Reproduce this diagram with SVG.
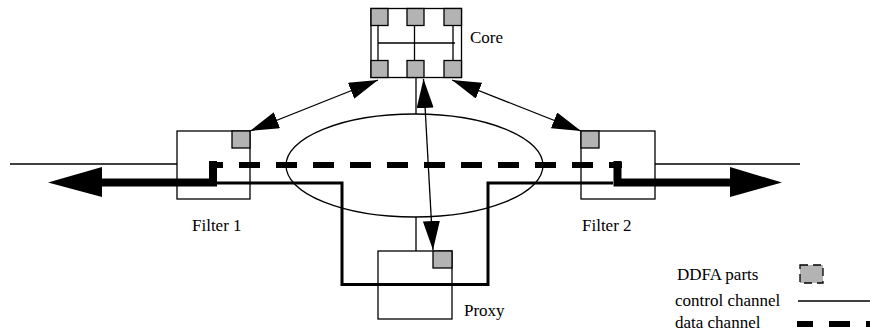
<svg xmlns="http://www.w3.org/2000/svg" width="870" height="332" viewBox="0 0 870 332">
<style>
.box{fill:none;stroke:#000;stroke-width:1.3}
.part{fill:#b3b3b3;stroke:#000;stroke-width:1.3}
.thin{fill:none;stroke:#000;stroke-width:1.3}
.ctl{fill:none;stroke:#000;stroke-width:3}
.data{fill:none;stroke:#000;stroke-width:8}
.dash{fill:none;stroke:#000;stroke-width:6;stroke-dasharray:21 16}
.lbl{font-family:"Liberation Serif","Times New Roman",serif;font-size:17px;fill:#000}
</style>
<defs>
<marker id="ah" markerUnits="userSpaceOnUse" markerWidth="30" markerHeight="18" refX="29" refY="8.5" orient="auto-start-reverse" viewBox="0 0 30 18">
<path d="M0,0 L29,8.5 L0,17 z" fill="#000"/>
</marker>
</defs>
<rect width="870" height="332" fill="#fff"/>

<g id="network">
<ellipse cx="414.5" cy="165.5" rx="128.5" ry="51.5" class="thin"/>
</g>

<g id="connectors">
<line x1="10" y1="164" x2="177" y2="164" class="thin"/>
<line x1="655" y1="164" x2="800" y2="164" class="thin"/>
<path d="M217 183 H342 V284.5 H488 V183 H613" class="ctl"/>
<path d="M209 165 H622" class="dash" stroke-dashoffset="7"/>
<path d="M100 182.5 H213 V161" class="data"/>
<polygon points="48,182.5 102,167 102,197" fill="#000"/>
<path d="M617.5 161 V182.5 H732" class="data"/>
<polygon points="782,182.5 730,167 730,197" fill="#000"/>
<line x1="416" y1="78" x2="416" y2="114" class="thin"/>
<line x1="416" y1="217" x2="416" y2="251" class="thin"/>
<line x1="378" y1="80" x2="250" y2="131" class="thin" marker-start="url(#ah)" marker-end="url(#ah)"/>
<line x1="452" y1="80" x2="581" y2="131" class="thin" marker-start="url(#ah)" marker-end="url(#ah)"/>
<line x1="423.5" y1="79" x2="433" y2="250" class="thin" marker-start="url(#ah)" marker-end="url(#ah)"/>
</g>

<g id="core">
<rect x="371" y="8.5" width="90.5" height="69" class="box"/>
<line x1="378" y1="26" x2="378" y2="61" class="thin"/>
<line x1="414.5" y1="26" x2="414.5" y2="61" class="thin" stroke-width="2"/>
<line x1="453" y1="26" x2="453" y2="61" class="thin"/>
<line x1="378" y1="43" x2="455" y2="43" class="thin"/>
<rect x="371" y="8.5" width="17" height="17" class="part"/>
<rect x="407" y="8.5" width="17" height="17" class="part"/>
<rect x="444" y="8.5" width="17.5" height="17" class="part"/>
<rect x="371" y="60.5" width="17" height="17" class="part"/>
<rect x="407" y="60.5" width="17" height="17" class="part"/>
<rect x="444" y="60.5" width="17.5" height="17" class="part"/>
<text x="470" y="43" class="lbl">Core</text>
</g>

<g id="filter1">
<rect x="177" y="131" width="73" height="68" class="box"/>
<rect x="232" y="131" width="18" height="17" class="part"/>
<text x="192" y="231" class="lbl">Filter 1</text>
</g>

<g id="filter2">
<rect x="581" y="131" width="74" height="68" class="box"/>
<rect x="581" y="131" width="18" height="17" class="part"/>
<text x="582" y="231" class="lbl">Filter 2</text>
</g>

<g id="proxy">
<rect x="378" y="251" width="74" height="68" class="box"/>
<rect x="433" y="251" width="19" height="17" class="part"/>
<text x="464" y="316" class="lbl">Proxy</text>
</g>

<g id="legend">
<text x="677" y="280" class="lbl">DDFA parts</text>
<rect x="800" y="265" width="23" height="18" class="part" stroke-dasharray="8 5"/>
<text x="675" y="306" class="lbl">control channel</text>
<line x1="798" y1="301" x2="870" y2="301" class="thin"/>
<text x="675" y="328" class="lbl">data channel</text>
<line x1="797" y1="324" x2="870" y2="324" class="dash" stroke-dashoffset="5"/>
</g>
</svg>
